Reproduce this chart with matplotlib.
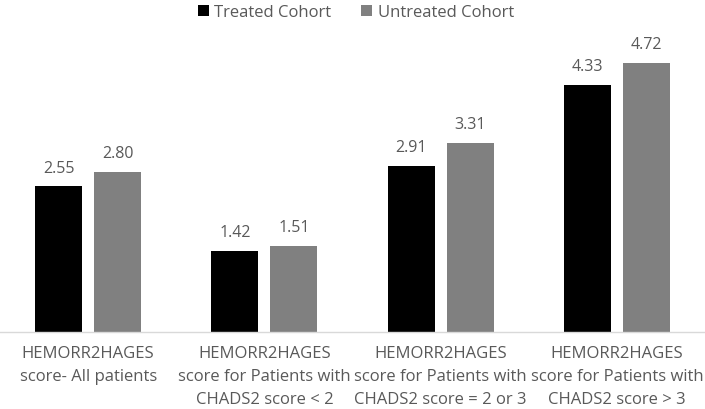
import matplotlib.pyplot as plt
import numpy as np

plt.rcParams['font.family'] = ['Open Sans', 'DejaVu Sans']

categories = [
    "HEMORR2HAGES\nscore- All patients",
    "HEMORR2HAGES\nscore for Patients with\nCHADS2 score < 2",
    "HEMORR2HAGES\nscore for Patients with\nCHADS2 score = 2 or 3",
    "HEMORR2HAGES\nscore for Patients with\nCHADS2 score > 3",
]
treated = [2.55, 1.42, 2.91, 4.33]
untreated = [2.80, 1.51, 3.31, 4.72]
series_names = ["Treated Cohort", "Untreated Cohort"]

text_color = "#595959"

fig = plt.figure(figsize=(7.05, 4.09), dpi=100)
ax = fig.add_axes([0, 0.188, 1, 0.74])

x = np.arange(len(categories))
w = 0.267
off = 0.167
b1 = ax.bar(x - off, treated, w, color="#000000", label=series_names[0])
b2 = ax.bar(x + off, untreated, w, color="#808080", label=series_names[1])

for bars, vals in [(b1, treated), (b2, untreated)]:
    for rect, v in zip(bars, vals):
        ax.annotate(f"{v:.2f}", (rect.get_x() + rect.get_width() / 2, v),
                    xytext=(0, 7), textcoords="offset points",
                    ha="center", va="bottom", fontsize=11.5, color=text_color)

ax.set_xlim(-0.5, 3.5)
ax.set_ylim(0, 5.3)
ax.set_yticks([])
ax.set_xticks(x)
ax.set_xticklabels(categories, fontsize=12, color=text_color, linespacing=1.58)
ax.tick_params(axis="x", length=0, pad=10)

for s in ["top", "right", "left"]:
    ax.spines[s].set_visible(False)
ax.spines["bottom"].set_color("#d9d9d9")
ax.spines["bottom"].set_linewidth(1)

fig.legend(loc="upper center", bbox_to_anchor=(0.505, 1.025), ncol=2, frameon=False,
           fontsize=12, labelcolor=text_color, handlelength=0.65, handleheight=0.65,
           handletextpad=0.35, columnspacing=1.8)

fig.savefig("out.png", dpi=100)
